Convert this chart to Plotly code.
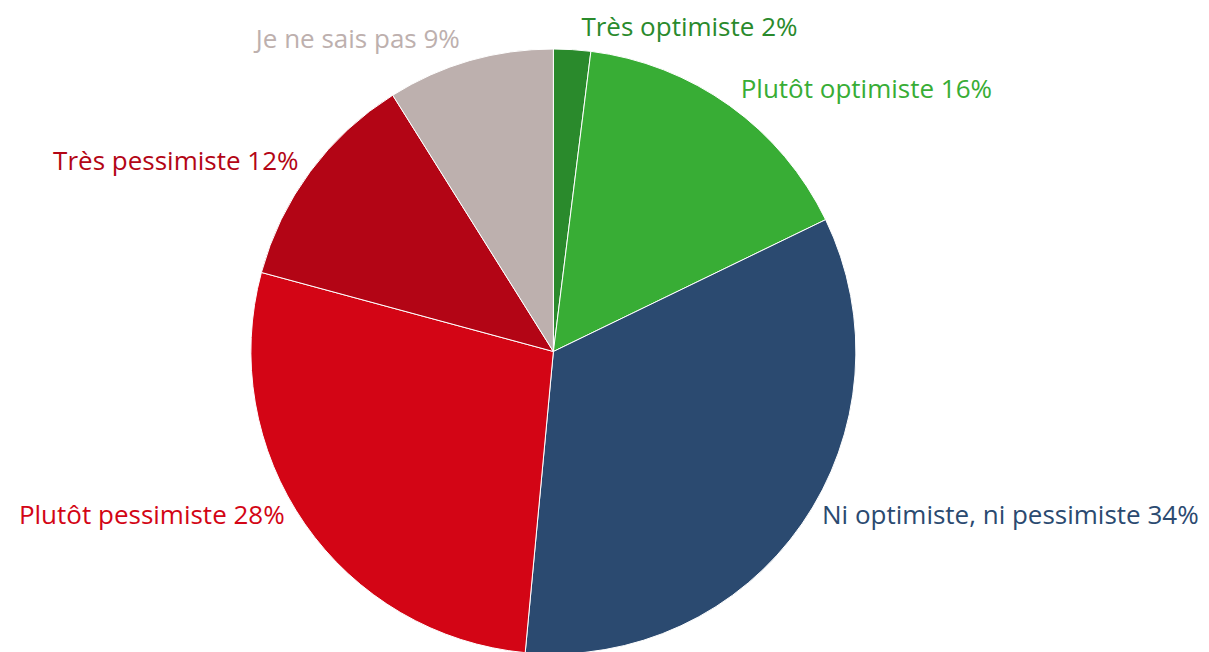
import plotly.graph_objects as go

labels = ["Très optimiste", "Plutôt optimiste", "Ni optimiste, ni pessimiste",
          "Plutôt pessimiste", "Très pessimiste", "Je ne sais pas"]
values = [2, 16, 34, 28, 12, 9]
colors = ["#2a8a2c", "#38ad35", "#2b4a70", "#d30515", "#b30515", "#bdb0ae"]
upper_labels = [True, True, False, False, True, True]   # which labels sit on the upper label ring

common = dict(labels=labels, values=values, sort=False, direction="clockwise",
              rotation=0, automargin=False, showlegend=False)
pct = [f"{v}%" for v in values]

# visible pie (no text)
pie = go.Pie(
    **common,
    textinfo="none",
    marker=dict(colors=colors, line=dict(color="white", width=1)),
    domain=dict(x=[0, 0.9022], y=[0.0092, 0.9371]),
    hoverinfo="label+percent",
)


def label_ring(mask, ydom):
    return go.Pie(
        **common,
        text=pct,
        texttemplate=["%{label} %{text}" if m else "" for m in mask],
        textposition="outside",
        outsidetextfont=dict(family="Open Sans", size=26, color=colors),
        marker=dict(colors=["rgba(0,0,0,0)"] * len(values), line=dict(width=0)),
        domain=dict(x=[0, 0.9022], y=ydom),
        hoverinfo="skip",
    )


ring_top = label_ring(upper_labels, [0.0077, 0.9463])
ring_bottom = label_ring([not m for m in upper_labels], [0.0245, 0.9939])

fig = go.Figure([pie, ring_top, ring_bottom])
fig.update_layout(
    width=1209, height=652,
    margin=dict(l=0, r=0, t=0, b=0, autoexpand=False),
    paper_bgcolor="white",
    font=dict(family="Open Sans"),
)
fig.write_html("out.html")
